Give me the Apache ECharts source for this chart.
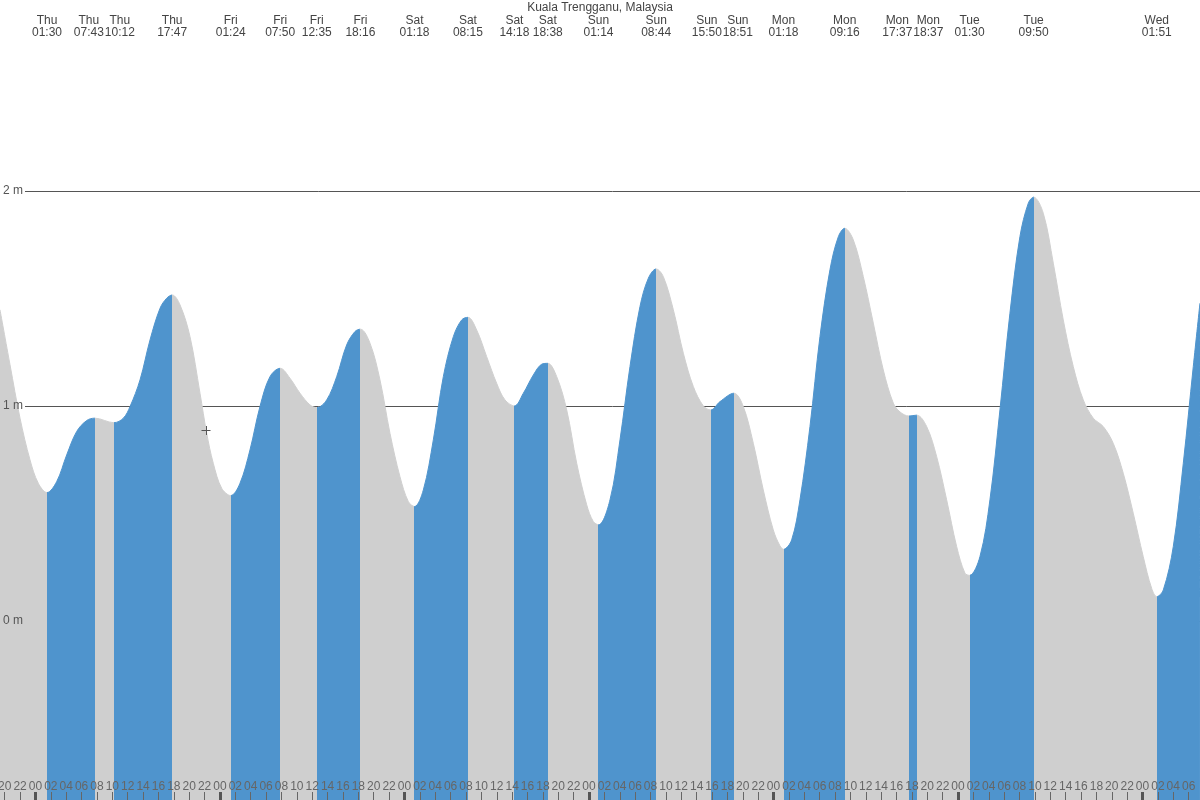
<!DOCTYPE html>
<html><head><meta charset="utf-8">
<script src="https://cdn.jsdelivr.net/npm/echarts@6/dist/echarts.min.js"></script>
<style>html,body{margin:0;padding:0;background:#fff}#c{width:1200px;height:800px}</style>
</head><body><div id="c"></div>
<script>
// Time in hours since Thursday 00:00, water level in metres
const tideHours = [
-4.614,-3.31,-2.01,-0.71,0.37,1.5,2.76,4.06,5.36,6.66,7.717,10.2,11.43,12.3,13.6,14.9,16.2,17.07,17.783,18.8,
20.1,21.4,22.27,23.13,24.22,25.4,26.6,27.9,29.2,30.5,31.833,33.1,34.41,35.7,36.583,37.88,39.18,40.48,41.56,42.267,
43.51,44.81,46.11,47.41,48.5,49.3,50.45,51.75,53.05,54.35,55.44,56.25,57.39,58.69,59.99,61.07,62.3,63.46,64.76,65.85,
66.633,67.8,69.1,70.4,71.7,72.56,73.233,74.73,76.03,77.33,78.63,79.72,80.733,81.67,82.97,84.27,85.57,86.87,87.833,89.04,
90.85,92.07,93.37,94.67,95.97,96.84,97.3,98.36,99.44,100.74,102.04,103.34,104.43,105.267,106.38,107.68,108.98,110.28,111.58,112.45,
113.617,114.617,115.92,117.22,118.52,119.82,120.9,121.5,122.85,124.15,125.45,126.75,128.05,129.14,129.833,131.09,132.39,133.69,134.99,136.29,
137.59,138.89,140.19,141.49,142.79,144.09,145.18,145.85,146.7,148.0,149.3,150.6,151.47
];
const tideHeights = [
1.447,1.191,0.943,0.749,0.640,0.597,0.648,0.772,0.881,0.932,0.943,0.922,0.943,0.997,1.121,1.307,1.454,1.501,1.516,1.470,
1.322,1.059,0.873,0.733,0.617,0.583,0.640,0.795,0.997,1.136,1.175,1.129,1.059,1.005,0.992,1.028,1.136,1.284,1.346,1.357,
1.292,1.121,0.873,0.671,0.555,0.532,0.609,0.842,1.136,1.322,1.400,1.412,1.353,1.229,1.105,1.028,1.000,1.059,1.144,1.194,
1.198,1.136,0.981,0.733,0.540,0.462,0.447,0.563,0.842,1.183,1.462,1.594,1.637,1.601,1.447,1.245,1.090,1.000,0.981,1.020,
1.059,0.997,0.826,0.609,0.423,0.349,0.333,0.377,0.563,0.904,1.322,1.633,1.787,1.826,1.772,1.601,1.385,1.167,1.013,0.972,
0.953,0.957,0.904,0.764,0.563,0.346,0.222,0.212,0.299,0.563,0.981,1.431,1.787,1.943,1.971,1.896,1.664,1.400,1.183,1.028,
0.943,0.904,0.826,0.687,0.501,0.299,0.152,0.113,0.144,0.346,0.733,1.183,1.478
];
// High / low water events (labels along the top)
const dayNames = ['Thu','Fri','Sat','Sun','Mon','Tue','Wed'];
const extremeDays = ['Thu','Thu','Thu','Thu','Fri','Fri','Fri','Fri','Sat','Sat','Sat','Sat','Sun','Sun','Sun','Sun','Mon','Mon','Mon','Mon','Tue','Tue','Wed'];
const extremeTimes = ['01:30','07:43','10:12','17:47','01:24','07:50','12:35','18:16','01:18','08:15','14:18','18:38','01:14','08:44','15:50','18:51','01:18','09:16','17:37','18:37','01:30','09:50','01:51'];
const extremeTypes = ['L','H','L','H','L','H','L','H','L','H','L','H','L','H','L','H','L','H','L','H','L','H','L'];
const yTickValues = [0, 1, 2];
const hourTickStep = 2;

const X_MIN = -4.614, X_MAX = 151.474, Y_MIN = -0.833, Y_MAX = 2.888;
const BLUE = '#4f94cd', GRAY = '#cfcfcf';
const FONT = 'Liberation Sans, Arial, sans-serif';
const PX_PER_HOUR = 1200 / (X_MAX - X_MIN);

const extremeHours = extremeDays.map((d, i) => {
  const p = extremeTimes[i].split(':');
  return dayNames.indexOf(d) * 24 + (+p[0]) + (+p[1]) / 60;
});
const seriesData = tideHours.map((t, i) => [t, tideHeights[i]]);

// label positions: push neighbours apart so the texts do not overlap
const minGap = 31 / PX_PER_HOUR;
const labelPos = extremeHours.slice();
for (let i = 1; i < labelPos.length; i++) {
  if (labelPos[i] - labelPos[i - 1] < minGap) {
    const mid = (labelPos[i] + labelPos[i - 1]) / 2;
    labelPos[i - 1] = mid - minGap / 2;
    labelPos[i] = mid + minGap / 2;
  }
}

const pieces = [];
let prev = -100;
extremeHours.forEach((t, i) => {
  pieces.push({ gte: prev, lt: t, color: extremeTypes[i] === 'H' ? BLUE : GRAY });
  prev = t;
});
pieces.push({ gte: prev, lt: 1000, color: extremeTypes[extremeTypes.length - 1] === 'L' ? BLUE : GRAY });

const hourTicks = [];
for (let h = Math.ceil(X_MIN / hourTickStep) * hourTickStep; h <= X_MAX; h += hourTickStep) hourTicks.push(h);
const midnightTicks = hourTicks.filter(h => ((h % 24) + 24) % 24 === 0);

const chart = echarts.init(document.getElementById('c'));
chart.setOption({
  animation: false,
  backgroundColor: '#ffffff',
  title: {
    text: 'Kuala Trengganu, Malaysia', left: 'center', top: 2, padding: 0,
    textStyle: { fontSize: 12, fontWeight: 'normal', color: '#444', fontFamily: FONT }
  },
  grid: [
    { left: 0, right: 0, top: 0, bottom: 0, containLabel: false, outerBoundsMode: 'none' },
    { left: 25, right: 0, top: 0, bottom: 0, containLabel: false, outerBoundsMode: 'none' }
  ],
  visualMap: { show: false, type: 'piecewise', dimension: 0, seriesIndex: 0, pieces: pieces },
  xAxis: [
    { gridIndex: 0, type: 'value', min: X_MIN, max: X_MAX, position: 'bottom', z: 10,
      axisLine: { show: false, onZero: false }, splitLine: { show: false },
      axisTick: { show: true, inside: true, length: 8, customValues: hourTicks, lineStyle: { color: '#666', width: 1 } },
      axisLabel: { show: true, inside: true, margin: 7, customValues: hourTicks, color: '#666', fontSize: 12, fontFamily: FONT,
        formatter: v => { const h = ((Math.round(v) % 24) + 24) % 24; return (h < 10 ? '0' : '') + h; } } },
    { gridIndex: 0, type: 'value', min: X_MIN, max: X_MAX, position: 'bottom', z: 11,
      axisLine: { show: false, onZero: false }, splitLine: { show: false }, axisLabel: { show: false },
      axisTick: { show: true, inside: true, length: 8, customValues: midnightTicks, lineStyle: { color: '#555', width: 3 } } },
    { gridIndex: 0, type: 'value', min: X_MIN, max: X_MAX, position: 'top', z: 10,
      axisLine: { show: false, onZero: false }, splitLine: { show: false }, axisTick: { show: false },
      axisLabel: { show: true, inside: true, margin: 15, customValues: labelPos, color: '#444', fontSize: 12, lineHeight: 12, fontFamily: FONT,
        formatter: v => { let k = 0, best = 1e9; labelPos.forEach((t, i) => { if (Math.abs(t - v) < best) { best = Math.abs(t - v); k = i; } }); return extremeDays[k] + '\n' + extremeTimes[k]; } } },
    { gridIndex: 1, type: 'value', min: 0, max: 1, show: false, axisLine: { onZero: false } }
  ],
  yAxis: [
    { gridIndex: 0, type: 'value', min: Y_MIN, max: Y_MAX, show: false, axisLine: { onZero: false } },
    { gridIndex: 0, type: 'value', min: Y_MIN, max: Y_MAX, position: 'left', z: 10,
      axisLine: { show: false, onZero: false }, splitLine: { show: false }, axisTick: { show: false, customValues: yTickValues },
      axisLabel: { show: true, inside: true, margin: 3, customValues: yTickValues, color: '#555', fontSize: 12, fontFamily: FONT,
        formatter: v => v + ' m' } },
    { gridIndex: 1, type: 'value', min: Y_MIN, max: Y_MAX, position: 'left', z: 0,
      axisLine: { show: false, onZero: false }, axisLabel: { show: false, customValues: yTickValues },
      axisTick: { show: false, customValues: yTickValues },
      splitLine: { show: true, lineStyle: { color: '#555', width: 1 } } }
  ],
  series: [{
    type: 'line', xAxisIndex: 0, yAxisIndex: 0, data: seriesData, smooth: 0.35,
    symbol: 'none', z: 2, lineStyle: { width: 1 }, areaStyle: { opacity: 1, origin: 'start' }
  }],
  graphic: [
    { type: 'line', shape: { x1: 201.5, y1: 430.5, x2: 210.5, y2: 430.5 }, style: { stroke: '#555', lineWidth: 1 }, z: 100 },
    { type: 'line', shape: { x1: 206.5, y1: 426, x2: 206.5, y2: 435 }, style: { stroke: '#555', lineWidth: 1 }, z: 100 }
  ]
});
</script></body></html>
